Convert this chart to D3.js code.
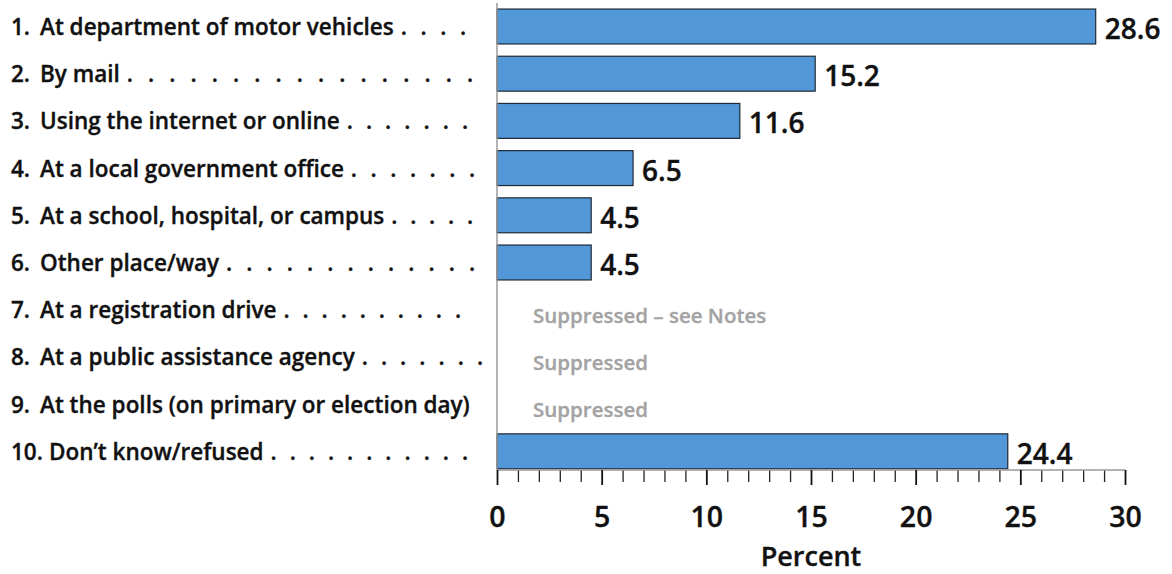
<!DOCTYPE html>
<html><head><meta charset="utf-8">
<script src="https://cdn.jsdelivr.net/npm/d3@7"></script>
<style>
html,body{margin:0;padding:0;background:#fff;}
text{font-family:"Open Sans","Noto Sans",sans-serif;font-weight:600;}
.dk{stroke:#111;stroke-width:0.35px;}
</style></head>
<body><svg id="c" width="1172" height="574"></svg>
<script>
const numbers = ["1.", "2.", "3.", "4.", "5.", "6.", "7.", "8.", "9.", "10."];
const categories = [
  "At department of motor vehicles",
  "By mail",
  "Using the internet or online",
  "At a local government office",
  "At a school, hospital, or campus",
  "Other place/way",
  "At a registration drive",
  "At a public assistance agency",
  "At the polls (on primary or election day)",
  "Don\u2019t know/refused"
];
const values = [28.6, 15.2, 11.6, 6.5, 4.5, 4.5, null, null, null, 24.4];
const suppressedNotes = [null, null, null, null, null, null, "Suppressed \u2013 see Notes", "Suppressed", "Suppressed", null];
const leaderDots = [4, 17, 7, 7, 5, 13, 10, 7, 0, 11];
const xTicks = [0, 5, 10, 15, 20, 25, 30];
const xTitle = "Percent";

// layout: where each row's dot leader ends
const dotEnds = [463, 470, 465, 472, 470, 472, 458, 480, 0, 465];

const svg = d3.select("#c");
const x = d3.scaleLinear().domain([0, 30]).range([497, 1125]);
const y = d3.scaleBand().domain(categories).range([2.9, 474.9]).paddingInner(0.26).paddingOuter(0.13);
const axisY = 470;
const FS = 22.5;

// category labels with dot leaders
const labelG = svg.append("g");
categories.forEach((c, i) => {
  const cy = y(c) + y.bandwidth() / 2;
  const base = cy + 8.5;
  const n = labelG.append("text").attr("class", "dk").attr("x", 11).attr("y", base)
    .attr("font-size", FS).attr("fill", "#111").text(numbers[i]);
  const nw = n.node().getComputedTextLength();
  const lx = Math.max(40, 11 + nw + 6);
  const t = labelG.append("text").attr("class", "dk").attr("x", lx).attr("y", base)
    .attr("font-size", FS).attr("fill", "#111").text(c);
  const w = t.node().getComputedTextLength();
  const k = leaderDots[i];
  if (k > 0) {
    const start = lx + w + 10, end = dotEnds[i];
    const step = k > 1 ? (end - start) / (k - 1) : 0;
    for (let j = 0; j < k; j++) {
      labelG.append("text").attr("class", "dk").attr("x", start + j * step).attr("y", base)
        .attr("font-size", FS).attr("fill", "#111").attr("text-anchor", "middle").text(".");
    }
  }
});

// bars
const data = categories.map((c, i) => ({c, v: values[i], note: suppressedNotes[i]}));
svg.append("g").selectAll("rect").data(data.filter(d => d.v != null)).join("rect")
  .attr("x", x(0)).attr("y", d => y(d.c))
  .attr("width", d => x(d.v) - x(0)).attr("height", y.bandwidth())
  .attr("fill", "#5297d7").attr("stroke", "#1e2a36").attr("stroke-width", 1.2);

// value labels
svg.append("g").selectAll("text").data(data.filter(d => d.v != null)).join("text")
  .attr("class", "dk")
  .attr("x", d => x(d.v) + 9).attr("y", d => y(d.c) + y.bandwidth() / 2 + 12.5)
  .attr("font-size", 28).attr("fill", "#111").text(d => d.v.toFixed(1));

// suppressed notes
svg.append("g").selectAll("text").data(data.filter(d => d.note)).join("text")
  .attr("x", 533).attr("y", d => y(d.c) + y.bandwidth() / 2 + 13)
  .attr("font-size", 20.5).attr("fill", "#a3a3a3").attr("stroke", "#a3a3a3").attr("stroke-width", 0.3)
  .text(d => d.note);

// y axis line
svg.append("line").attr("x1", x(0)).attr("x2", x(0)).attr("y1", 3).attr("y2", axisY)
  .attr("stroke", "#9a9a9a").attr("stroke-width", 1.5);

// x axis: minor ticks
const minor = d3.range(0, 31, 1).filter(v => v % 5 !== 0);
const gMinor = svg.append("g").attr("transform", `translate(0,${axisY})`)
  .call(d3.axisBottom(x).tickValues(minor).tickSize(12).tickFormat(""));
gMinor.select(".domain").remove();
gMinor.selectAll(".tick line").attr("stroke", "#222").attr("stroke-width", 1.3);

const gMajor = svg.append("g").attr("transform", `translate(0,${axisY})`)
  .call(d3.axisBottom(x).tickValues(xTicks).tickSize(15).tickFormat(d3.format("d")));
gMajor.select(".domain").attr("d", `M${x(0)},0H${x(30)}`).attr("stroke", "#9a9a9a").attr("stroke-width", 1.5);
gMajor.selectAll(".tick line").attr("stroke", "#111").attr("stroke-width", 1.8);
gMajor.selectAll(".tick text").attr("class", "dk").attr("font-size", 28.5).attr("fill", "#111")
  .attr("font-family", "'Open Sans','Noto Sans',sans-serif").attr("font-weight", 600)
  .attr("dy", null).attr("y", 57);

svg.append("text").attr("class", "dk").attr("x", (x(0) + x(30)) / 2).attr("y", 566)
  .attr("text-anchor", "middle").attr("font-size", 27).attr("fill", "#111").text(xTitle);
</script></body></html>
